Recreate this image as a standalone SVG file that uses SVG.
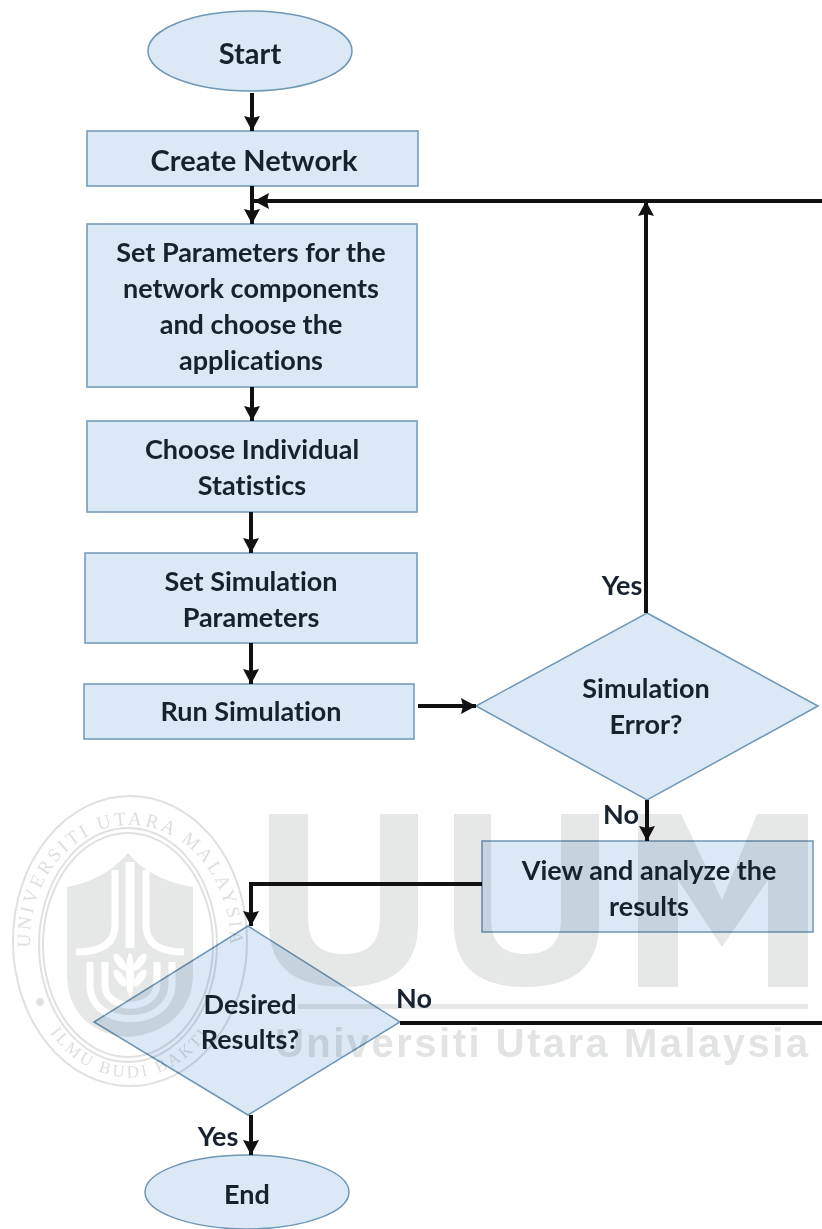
<svg xmlns="http://www.w3.org/2000/svg" width="822" height="1229" viewBox="0 0 822 1229">
<defs>
<marker id="ah" markerUnits="userSpaceOnUse" markerWidth="16" markerHeight="18" refX="15" refY="8" orient="auto"><path d="M0 0L15 8L0 16L2 8Z" fill="#111"/></marker>
<path id="arcTop" d="M37.5 985A100 116 0 1 1 222.5 985"/>
<path id="arcBot" d="M37 1010A108 137 0 0 0 223 1010"/>
</defs>
<style>
text{font-family:Lato,"Liberation Sans",sans-serif;font-weight:700;font-size:27px;fill:#18222e;text-anchor:middle;font-variant-ligatures:none}
.big{font-size:29px}
.s{fill:#dbe9f7;stroke:#6f97b6;stroke-width:1.5;mix-blend-mode:multiply}
.c{fill:none;stroke:#111;stroke-width:4}
.w{fill:#e6e7e7;stroke:none}
.r{fill:none;stroke:#dfe1e1;stroke-width:2}
.cut{fill:none;stroke:#fff;stroke-width:7}
.leaf{fill:#fff}
.wt{font-family:"Liberation Sans",sans-serif;font-weight:700;font-size:40px;fill:#e2e4e4;text-anchor:start}
.st{font-family:"Liberation Serif",serif;font-weight:400;font-size:19px;fill:#dcdfdf;letter-spacing:3px}
</style>
<rect width="822" height="1229" fill="#fff"/>
<g id="watermark">
<ellipse class="r" cx="130" cy="941" rx="117" ry="145"/>
<ellipse class="r" cx="128" cy="945" rx="89" ry="117"/>
<ellipse class="r" cx="128" cy="945" rx="85" ry="112"/>
<path class="w" d="M67 887Q105 880 128 853Q150 880 193 887V975C193 1010 165 1035 128 1037C90 1035 67 1010 67 975Z"/>
<path class="cut" d="M115 870V925Q115 952 76 952"/>
<path class="cut" style="stroke-width:9" d="M130 862V948"/>
<path class="cut" d="M146 870V925Q146 952 184 952"/>
<path class="cut" d="M90 962V985C90 1030 170 1030 172 985V962"/>
<path class="cut" d="M105 962V985C105 1012 155 1012 157 985V962"/>
<g class="leaf"><ellipse cx="130" cy="975" rx="4" ry="22"/><ellipse cx="120" cy="962" rx="4" ry="10" transform="rotate(-35 120 962)"/><ellipse cx="140" cy="962" rx="4" ry="10" transform="rotate(35 140 962)"/><ellipse cx="120" cy="978" rx="4" ry="10" transform="rotate(-35 120 978)"/><ellipse cx="140" cy="978" rx="4" ry="10" transform="rotate(35 140 978)"/></g>
<circle cx="40" cy="1002" r="4" fill="#dfe1e1"/>
<text class="st"><textPath href="#arcTop" startOffset="50%">UNIVERSITI UTARA MALAYSIA</textPath></text>
<text class="st" style="font-size:17px"><textPath href="#arcBot" startOffset="50%">ILMU BUDI BAKTI</textPath></text>
<path class="w" d="M269 814H308V918C308 945 322 954 344 954C366 954 380 945 380 918V814H418V925C418 968 390 987 344 987C296 987 269 968 269 925Z"/>
<path class="w" d="M454 814H491V918C491 945 505 954 526 954C547 954 561 945 561 918V814H599V925C599 968 571 987 526 987C480 987 454 968 454 925Z"/>
<path class="w" d="M638 814H681L722 900L757 814H808V987H768V880L722 947L678 880V987H638Z"/>
<rect class="w" x="298" y="1004" width="510" height="5"/>
<text class="wt" x="275" y="1057" textLength="533" lengthAdjust="spacing">Universiti Utara Malaysia</text>
</g>
<g id="connectors">
<path class="c" d="M252 93V131" marker-end="url(#ah)"/>
<path class="c" d="M252 186V224" marker-end="url(#ah)"/>
<path class="c" d="M822 201H254" marker-end="url(#ah)"/>
<path class="c" d="M252 387V421" marker-end="url(#ah)"/>
<path class="c" d="M251 512V553" marker-end="url(#ah)"/>
<path class="c" d="M251 643V684" marker-end="url(#ah)"/>
<path class="c" d="M418 706H476" marker-end="url(#ah)"/>
<path class="c" d="M646 613V201" marker-end="url(#ah)"/>
<path class="c" d="M647 800V841" marker-end="url(#ah)"/>
<path class="c" d="M482 884H251V926" marker-end="url(#ah)"/>
<path class="c" d="M400 1023H822"/>
<path class="c" d="M251 1115V1155" marker-end="url(#ah)"/>
</g>
<g id="start"><ellipse class="s" cx="250" cy="51" rx="102" ry="40"/><text class="big" x="250" y="64">Start</text></g>
<g id="create"><rect class="s" x="87" y="131" width="331" height="55"/><text class="big" x="254" y="171">Create Network</text></g>
<g id="params"><rect class="s" x="87" y="224" width="330" height="163"/><text x="251" y="262">Set Parameters for the</text><text x="251" y="298">network components</text><text x="251" y="334">and choose the</text><text x="251" y="370">applications</text></g>
<g id="stats"><rect class="s" x="87" y="421" width="330" height="91"/><text x="252" y="459">Choose Individual</text><text x="252" y="495">Statistics</text></g>
<g id="simparams"><rect class="s" x="85" y="553" width="332" height="90"/><text x="251" y="591">Set Simulation</text><text x="251" y="627">Parameters</text></g>
<g id="run"><rect class="s" x="84" y="684" width="330" height="55"/><text x="251" y="721">Run Simulation</text></g>
<g id="simerror"><path class="s" d="M647 613L818 706L647 800L476 706Z"/><text x="646" y="698">Simulation</text><text x="646" y="734">Error?</text></g>
<g id="view"><rect class="s" x="482" y="841" width="331" height="91"/><text x="649" y="880">View and analyze the</text><text x="649" y="916">results</text></g>
<g id="desired"><path class="s" d="M248 926L400 1022L248 1115L94 1022Z"/><text x="250" y="1014">Desired</text><text x="250" y="1049">Results?</text></g>
<g id="end"><ellipse class="s" cx="247" cy="1192" rx="102" ry="37"/><text x="247" y="1204">End</text></g>
<g id="labels"><text x="622" y="595">Yes</text><text x="621" y="824">No</text><text x="414" y="1008">No</text><text x="218" y="1146">Yes</text></g>
</svg>
